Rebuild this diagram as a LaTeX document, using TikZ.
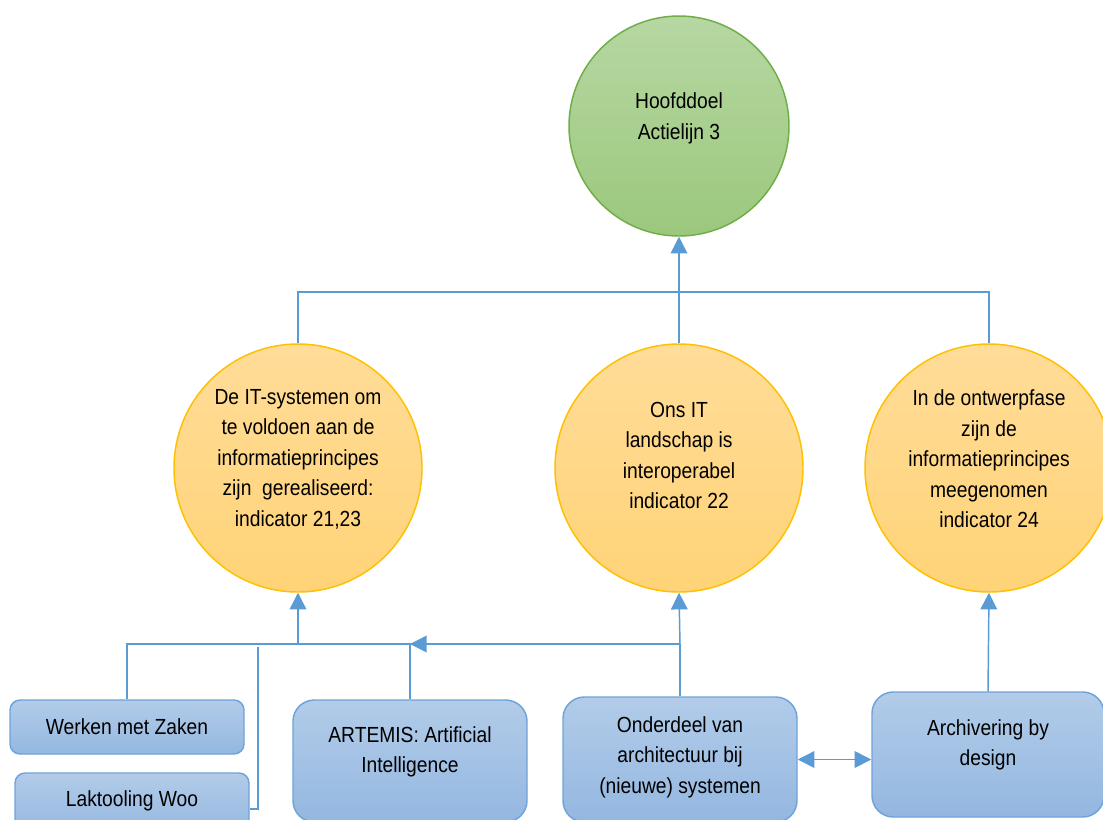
\documentclass[tikz,border=0pt]{standalone}
\usepackage{fontspec}
\setmainfont{Liberation Sans}
\newfontfamily\diagfont{Liberation Sans}[FakeStretch=0.88]
\usetikzlibrary{arrows.meta}
\definecolor{lineblue}{HTML}{5B9BD5}
\definecolor{boxborder}{HTML}{6FA3DA}
\definecolor{boxtop}{HTML}{B2CCE9}
\definecolor{boxbot}{HTML}{94B7E0}
\definecolor{greentop}{HTML}{B6D7A2}
\definecolor{greenbot}{HTML}{9BC87D}
\definecolor{greenborder}{HTML}{70AD47}
\definecolor{orangetop}{HTML}{FFDC98}
\definecolor{orangebot}{HTML}{FFD377}
\definecolor{orangeborder}{HTML}{FFC000}
\tikzset{
  goal/.style={circle, draw=greenborder, line width=1.1pt, top color=greentop, bottom color=greenbot, minimum size=165pt, inner sep=0pt},
  sub/.style={circle, draw=orangeborder, line width=1.1pt, top color=orangetop, bottom color=orangebot, minimum size=186pt, inner sep=0pt},
  boxs/.style={rectangle, rounded corners=7.5pt, draw=boxborder, line width=1.1pt, top color=boxtop, bottom color=boxbot, inner sep=0pt},
  boxl/.style={rectangle, rounded corners=16pt, draw=boxborder, line width=1.1pt, top color=boxtop, bottom color=boxbot, inner sep=0pt},
  txt/.style={align=center, font=\diagfont\fontsize{16.4pt}{22.9pt}\selectfont, inner sep=0pt, text=black},
  conn/.style={draw=lineblue, line width=1.1pt},
  arr/.style={conn, -{Triangle[length=12.5pt, width=12.5pt]}},
  darr/.style={conn, {Triangle[length=12.5pt, width=12.5pt]}-{Triangle[length=12.5pt, width=12.5pt]}},
}
\begin{document}
\begin{tikzpicture}[x=0.75pt, y=-0.75pt]
\useasboundingbox (0,0) rectangle (1103,819);
\clip (0,0) rectangle (1103,819);
\fill[white] (0,0) rectangle (1103,819);

% circles
\node[goal] (G) at (679,126) {};
\node[sub] (O1) at (298,468) {};
\node[sub] (O2) at (679,468) {};
\node[sub] (O3) at (989,468) {};

\node[txt] (tG) at (679,118.5) {Hoofddoel\\Actielijn 3};
\node[txt] (tO1) at (298,459) {De IT-systemen om\\te voldoen aan de\\informatieprincipes\\zijn\ \ gerealiseerd:\\indicator 21,23};
\node[txt] (tO2) at (679,455.5) {Ons IT\\landschap is\\interoperabel\\indicator 22};
\node[txt] (tO3) at (989,459) {In de ontwerpfase\\zijn de\\informatieprincipes\\meegenomen\\indicator 24};

% boxes
\node[boxs, minimum width=175.5pt, minimum height=40.5pt] (W) at (127,727) {};
\node[boxs, minimum width=175.5pt, minimum height=45pt] (L) at (132,803) {};
\node[boxl, minimum width=175.5pt, minimum height=91.5pt] (A) at (410,761) {};
\node[boxl, minimum width=175.5pt, minimum height=93.75pt] (N) at (680,759.5) {};
\node[boxl, minimum width=174pt, minimum height=93.75pt] (R) at (988,754.5) {};

\node[txt] (tW) at (127,727) {Werken met Zaken};
\node[txt] (tL) at (132,801) {Laktooling Woo};
\node[txt] (tA) at (410,752) {ARTEMIS: Artificial\\Intelligence};
\node[txt] (tN) at (680,757) {Onderdeel van\\architectuur bij\\(nieuwe) systemen};
\node[txt] (tR) at (988,745) {Archivering by\\design};

% coordinates
\coordinate (j1) at (298,292);
\coordinate (j2) at (679,292);
\coordinate (j3) at (989,292);
\coordinate (b0) at (127,644);
\coordinate (b1) at (298,644);
\coordinate (b2) at (410,644);
\coordinate (b3) at (680,644);
\coordinate (lk1) at (258,809);
\coordinate (lk2) at (258,647);

% top connectors
\draw[conn] (O1.north) -- (j1) -- (j3) -- (O3.north);
\draw[conn] (O2.north) -- (j2);
\draw[arr] (j2) -- (G.south);

% bottom connectors
\draw[conn] (W.north) -- (b0) -- (b3);
\draw[arr] (b1) -- (O1.south);
\draw[conn] (A.north) -- (b2);
\draw[arr] (b3) -- (b2);
\draw[conn] (N.north) -- (b3);
\draw[arr] (b3) -- (O2.south);
\draw[arr] (R.north) -- (O3.south);
\draw[conn] (L.east |- lk1) -- (lk1) -- (lk2);
\draw[darr] (N.east) -- (R.west |- N.east);
\end{tikzpicture}
\end{document}
